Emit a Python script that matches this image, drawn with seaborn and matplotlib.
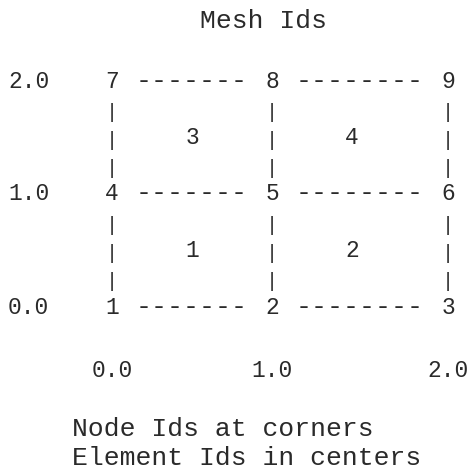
import matplotlib
matplotlib.use("Agg")
import matplotlib.pyplot as plt
import seaborn as sns

# ---- data ----
title = "Mesh Ids"
node_ids = [[7, 8, 9], [4, 5, 6], [1, 2, 3]]      # top grid line first
element_ids = [[3, 4], [1, 2]]                   # top row of elements first
y_tick_labels = ["2.0", "1.0", "0.0"]
x_tick_labels = ["0.0", "1.0", "2.0"]
notes = ["Node Ids at corners", "Element Ids in centers"]

# ---- layout (character grid) ----
node_cols = [6, 16, 27]
element_cols = [11, 21]
COL_W = 16.0
X0 = 8.0
ROW0 = 87.5
ROW_H = 28.25
FONT = "Liberation Mono"
COLOR = "#2a2a2a"


def col_center(c):
    return X0 + COL_W * c + COL_W / 2


def col_left(c):
    return X0 + COL_W * c


def row_y(r):
    return ROW0 + ROW_H * r


sns.set_theme(style="white")
plt.rcParams["font.family"] = [FONT, "DejaVu Sans Mono"]

fig = plt.figure(figsize=(4.71, 4.70), dpi=100)
ax = fig.add_axes([0, 0, 1, 1])
ax.set_xlim(0, 471)
ax.set_ylim(470, 0)
ax.axis("off")
sns.despine(ax=ax, left=True, bottom=True)

DIGIT_SIZE = 16.5
WORD_SIZE = 19.0
DASH_SIZE = 19.2
PIPE_SIZE = 14.5


def txt(x, y, s, size, ha="center"):
    ax.text(x, y, s, fontsize=size, ha=ha, va="baseline", color=COLOR,
            family=FONT)


# title
txt(col_left(12), 28, title, WORD_SIZE, ha="left")

# grid lines with nodes and dashes
for i, row in enumerate(node_ids):
    r = 4 * i
    y = row_y(r)
    txt(col_left(0), y, y_tick_labels[i], DIGIT_SIZE, ha="left")
    for j, nid in enumerate(row):
        txt(col_center(node_cols[j]), y, str(nid), DIGIT_SIZE)
    for j in range(len(row) - 1):
        a, b = node_cols[j], node_cols[j + 1]
        n = (b - 2) - (a + 2) + 1
        txt(col_left(a + 2), y, "-" * n, DASH_SIZE, ha="left")

# vertical bars and element ids
for i, erow in enumerate(element_ids):
    for k in (1, 2, 3):
        y = row_y(4 * i + k)
        for c in node_cols:
            txt(col_center(c), y + 2, "|", PIPE_SIZE)
        if k == 2:
            for j, eid in enumerate(erow):
                txt(col_center(element_cols[j]), y, str(eid), DIGIT_SIZE)

# x tick labels
for j, lab in enumerate(x_tick_labels):
    txt(col_center(node_cols[j]), 377, lab, DIGIT_SIZE)

# notes
txt(col_left(4), 436, notes[0], WORD_SIZE, ha="left")
txt(col_left(4), 465, notes[1], WORD_SIZE, ha="left")

fig.savefig("out.png", dpi=100)
